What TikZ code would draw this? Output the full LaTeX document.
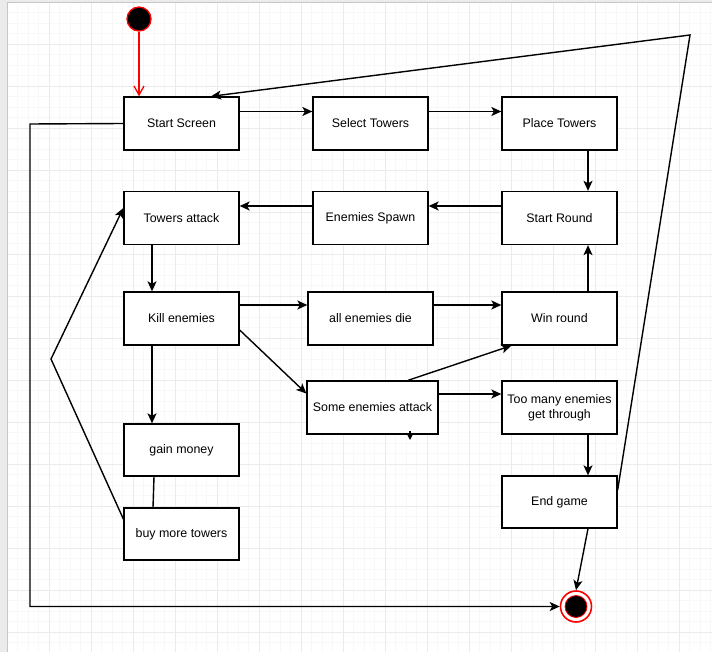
\documentclass[tikz,border=0pt]{standalone}
\usepackage{fontspec}
\setmainfont{Liberation Sans}
\usetikzlibrary{arrows.meta}
\definecolor{minorgrid}{HTML}{F8F8F8}
\definecolor{majorgrid}{HTML}{EBEBEB}
\definecolor{frame}{HTML}{EBEBEB}
\definecolor{endred}{HTML}{FF0000}
\tikzset{
  state/.style={draw=black, line width=1.3pt, fill=white, rectangle,
    minimum width=115pt, minimum height=53pt, inner sep=1pt, align=center,
    font=\fontsize{12.4}{14}\selectfont},
  flow/.style={draw=black, line width=1.4pt,
    -{Stealth[length=10pt,width=9pt,inset=2.5pt]}},
  plainline/.style={draw=black, line width=1.4pt},
  initarrow/.style={draw=endred, line width=1.3pt,
    -{Straight Barb[length=9pt,width=10pt]}},
}
\begin{document}
\begin{tikzpicture}[x=1pt,y=-1pt]
\useasboundingbox (0,0) rectangle (712,652);
% canvas and grid
\fill[frame] (0,0) rectangle (712,652);
\fill[white] (7,2) rectangle (712,652);
\foreach \i in {0,...,67} {
  \draw[minorgrid, line width=0.8pt] ({7+10.5*\i},2) -- ({7+10.5*\i},652);
}
\foreach \i in {0,...,62} {
  \draw[minorgrid, line width=0.8pt] (7,{2+10.5*\i}) -- (712,{2+10.5*\i});
}
\foreach \i in {0,...,17} {
  \draw[majorgrid, line width=0.9pt] ({7+42*\i},2) -- ({7+42*\i},652);
}
\foreach \i in {0,...,15} {
  \draw[majorgrid, line width=0.9pt] (7,{2+42*\i}) -- (712,{2+42*\i});
}
\draw[black!22, line width=0.8pt] (7,652) -- (7,2) -- (712,2);

% states
\node[circle, draw=endred, fill=black, line width=1.3pt, minimum size=24pt, inner sep=0pt] (init) at (139,19) {};
\node[state] (screen)  at (181.5,123.5) {Start Screen};
\node[state] (select)  at (370.5,123.5) {Select Towers};
\node[state] (place)   at (559.5,123.5) {Place Towers};
\node[state] (round)   at (559.5,218)   {Start Round};
\node[state] (spawn)   at (370.5,218)   {Enemies Spawn};
\node[state] (attack)  at (181.5,218)   {Towers attack};
\node[state] (kill)    at (181.5,318.5) {Kill enemies};
\node[state, minimum width=125pt] (die) at (370.5,318.5) {all enemies die};
\node[state] (win)     at (559.5,318.5) {Win round};
\node[state, minimum width=131pt] (some) at (372.5,407.5) {Some enemies attack};
\node[state] (toomany) at (559.5,407.5) {Too many enemies\\[1pt]get through};
\node[state, minimum height=52pt] (gain) at (181.5,450) {gain money};
\node[state, minimum height=52pt] (buy)  at (181.5,534) {buy more towers};
\node[state, minimum height=52pt] (endg) at (559.5,502) {End game};
\node[circle, draw=endred, fill=white, line width=1.6pt, minimum size=31pt, inner sep=0pt] (final) at (576,606.5) {};
\node[circle, draw=endred, fill=black, line width=0.8pt, minimum size=22pt, inner sep=0pt] (finalcore) at (576,606.5) {};

% bend points
\coordinate (bendbuy) at (51,359);
\coordinate (bendtop) at (690,35);
\coordinate (bendleftA) at (30,124);
\coordinate (bendleftB) at (30,606.5);
\coordinate (stubA) at (410,431);
\coordinate (stubB) at (410,440);

% transitions
\draw[initarrow] (init) -- (init |- screen.north);
\draw[flow] ([yshift=12pt]screen.east) -- ([yshift=12pt]select.west);
\draw[flow] ([yshift=12pt]select.east) -- ([yshift=12pt]place.west);
\draw[flow] ([xshift=28.5pt]place.south) -- ([xshift=28.5pt]round.north);
\draw[flow] ([yshift=12pt]round.west) -- ([yshift=12pt]spawn.east);
\draw[flow] ([yshift=12pt]spawn.west) -- ([yshift=12pt]attack.east);
\draw[flow] ([xshift=-29.5pt]attack.south) -- ([xshift=-29.5pt]kill.north);
\draw[flow] ([yshift=13.5pt]kill.east) -- ([yshift=13.5pt]die.west);
\draw[flow] ([yshift=13.5pt]die.east) -- ([yshift=13.5pt]win.west);
\draw[flow] ([xshift=28.5pt]win.north) -- ([xshift=28.5pt]round.south);
\draw[flow] ([yshift=-11.5pt]kill.east) -- ([yshift=14pt]some.west);
\draw[flow] ([xshift=35.5pt]some.north) -- ([xshift=10pt]win.south west);
\draw[flow] ([yshift=13.5pt]some.east) -- ([yshift=13.5pt]toomany.west);
\draw[flow] ([xshift=28.5pt]toomany.south) -- ([xshift=28.5pt]endg.north);
\draw[flow] ([xshift=-29.5pt]kill.south) -- ([xshift=-29.5pt]gain.north);
\draw[plainline] ([xshift=-27.5pt]gain.south) -- ([xshift=-28.5pt]buy.north);
\draw[flow] ([yshift=15pt]buy.west) -- (bendbuy) -- ([yshift=10pt]attack.west);
\draw[flow] ([xshift=28.5pt]endg.south) -- (final.north);
\draw[flow] ([yshift=12pt]endg.east) -- (bendtop) -- ([xshift=29.5pt]screen.north);
\draw[flow] (screen.west) -- (bendleftA) -- (bendleftB) -- (final.west);
\draw[draw=black, line width=1.3pt, -{Stealth[length=7pt,width=7pt,inset=1.5pt]}] (stubA) -- (stubB);
\end{tikzpicture}
\end{document}
